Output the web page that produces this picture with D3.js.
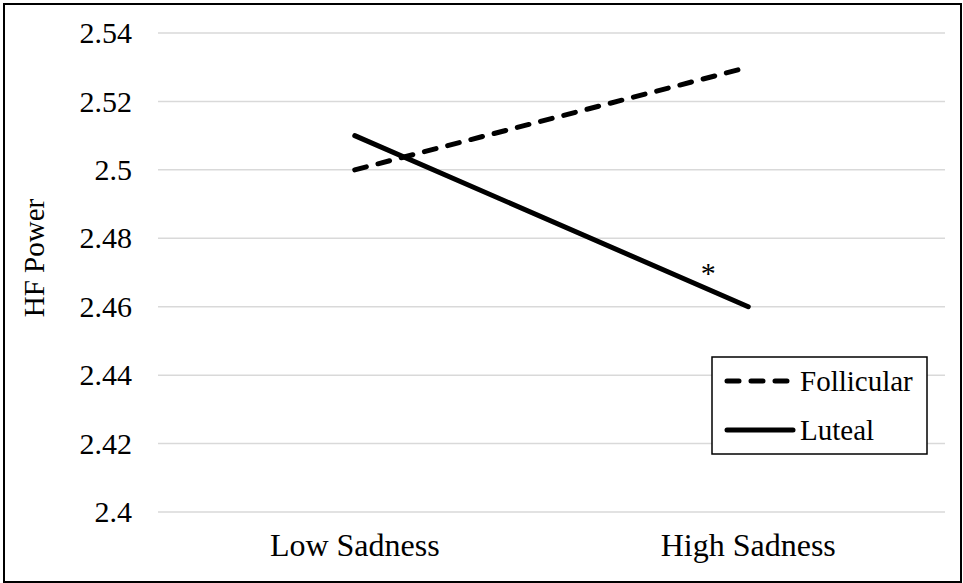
<!DOCTYPE html>
<html>
<head>
<meta charset="utf-8">
<script src="https://cdn.jsdelivr.net/npm/d3@7"></script>
<style>
  html, body { margin: 0; padding: 0; background: #fff; }
  svg { display: block; }
  svg text { font-family: "Liberation Serif", "Times New Roman", Times, serif !important; fill: #000; }
</style>
</head>
<body>
<svg id="chart" width="963" height="583" font-family="Liberation Serif, serif"></svg>
<script>
const categories = ["Low Sadness", "High Sadness"];
const follicular = [2.50, 2.53];
const luteal = [2.51, 2.46];
const yTicks = [2.4, 2.42, 2.44, 2.46, 2.48, 2.5, 2.52, 2.54];
const seriesNames = ["Follicular", "Luteal"];
const yTitle = "HF Power";
const annotation = { label: "*", category: "High Sadness", value: 2.471 };

const W = 963, H = 583;
const FONT = "Liberation Serif, serif";
const margin = { left: 158, right: 18, top: 33, bottom: 71 };
const svg = d3.select("#chart");

svg.append("rect")
  .attr("x", 4).attr("y", 4).attr("width", W - 6).attr("height", H - 5)
  .attr("fill", "#fff").attr("stroke", "#000").attr("stroke-width", 2);

const x = d3.scaleBand().domain(categories).range([margin.left, W - margin.right]);
const y = d3.scaleLinear().domain([2.4, 2.54]).range([H - margin.bottom, margin.top]);

// gridlines
svg.append("g").selectAll("line").data(yTicks).join("line")
  .attr("x1", margin.left).attr("x2", W - margin.right)
  .attr("y1", d => y(d)).attr("y2", d => y(d))
  .attr("stroke", "#d9d9d9").attr("stroke-width", 1.5);

// y axis labels
const yAxis = d3.axisLeft(y).tickValues(yTicks).tickSize(0).tickPadding(26)
  .tickFormat(d => String(+d.toFixed(2)));
const gy = svg.append("g").attr("transform", `translate(${margin.left},0)`).call(yAxis)
  .attr("font-family", FONT).attr("font-size", 30);
gy.select(".domain").remove();
gy.selectAll("text").attr("font-family", FONT);

// x axis labels
const xAxis = d3.axisBottom(x).tickSize(0).tickPadding(21);
const gx = svg.append("g").attr("transform", `translate(0,${H - margin.bottom})`).call(xAxis)
  .attr("font-family", FONT).attr("font-size", 32);
gx.select(".domain").remove();
gx.selectAll("text").attr("font-family", FONT);

// y title
svg.append("text")
  .attr("transform", `translate(44,258) rotate(-90)`)
  .attr("text-anchor", "middle")
  .attr("font-family", FONT).attr("font-size", 29)
  .text(yTitle);

const cx = d => x(d) + x.bandwidth() / 2;
const line = d3.line().x(d => cx(d.c)).y(d => y(d.v));

const fData = categories.map((c, i) => ({ c, v: follicular[i] }));
const lData = categories.map((c, i) => ({ c, v: luteal[i] }));

svg.append("path").datum(fData).attr("d", line)
  .attr("fill", "none").attr("stroke", "#000").attr("stroke-width", 5)
  .attr("stroke-linecap", "round").attr("stroke-dasharray", "12,12");
svg.append("path").datum(lData).attr("d", line)
  .attr("fill", "none").attr("stroke", "#000").attr("stroke-width", 5)
  .attr("stroke-linecap", "round");

// annotation
svg.append("text")
  .attr("x", cx(annotation.category) - 40).attr("y", y(annotation.value) + 14)
  .attr("text-anchor", "middle")
  .attr("font-family", FONT).attr("font-size", 30)
  .text(annotation.label);

// legend
const lg = svg.append("g");
lg.append("rect").attr("x", 712).attr("y", 357).attr("width", 215).attr("height", 97)
  .attr("fill", "#fff").attr("stroke", "#000").attr("stroke-width", 1.5);
const styles = [{ dash: "12,12" }, { dash: null }];
seriesNames.forEach((name, i) => {
  const yy = 381 + i * 49;
  lg.append("line").attr("x1", 727).attr("x2", 793).attr("y1", yy).attr("y2", yy)
    .attr("stroke", "#000").attr("stroke-width", 5).attr("stroke-linecap", "round")
    .attr("stroke-dasharray", styles[i].dash);
  lg.append("text").attr("x", 800).attr("y", yy).attr("dy", "0.33em")
    .attr("font-family", FONT).attr("font-size", 29).text(name);
});
</script>
</body>
</html>
